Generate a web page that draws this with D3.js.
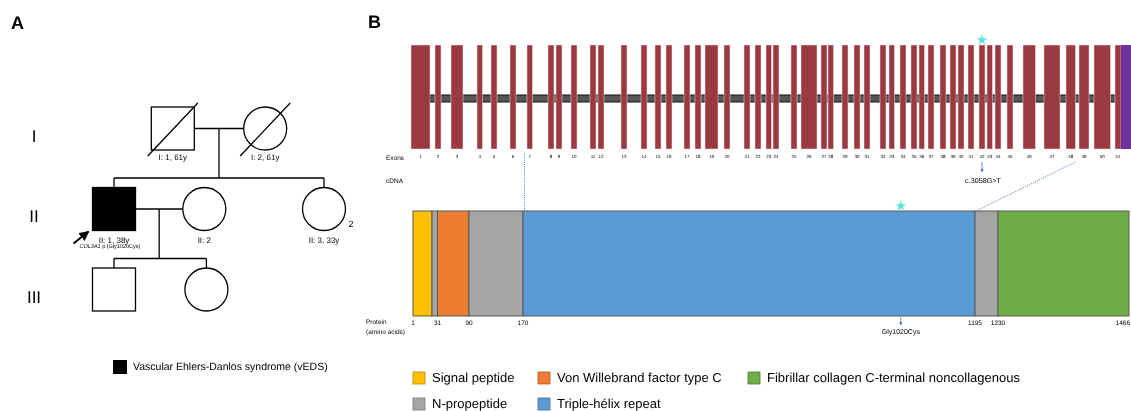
<!DOCTYPE html>
<html><head><meta charset="utf-8">
<script src="https://cdn.jsdelivr.net/npm/d3@7"></script>
<style>html,body{margin:0;padding:0;background:#fff;overflow:hidden}svg{display:block;font-family:"Liberation Sans",Arial,sans-serif;will-change:transform;text-rendering:geometricPrecision;-webkit-font-smoothing:antialiased}svg text{fill:#000}</style>
</head><body><svg id="fig" width="1131" height="411"></svg>
<script>
// ---------------- Panel A: pedigree data ----------------
const genLabels = ["I", "II", "III"];
const pedIds      = ["I:1", "I:2", "II:1", "II:2", "II:3", "III:1", "III:2"];
const pedGen      = [1, 1, 2, 2, 2, 3, 3];
const pedPos      = [28, 72, 0, 43, 100, 0, 44];          // horizontal pedigree units
const pedSex      = ["M", "F", "M", "F", "F", "M", "F"];
const pedAffected = [0, 0, 1, 0, 0, 0, 0];
const pedDeceased = [1, 1, 0, 0, 0, 0, 0];
const pedLabels   = ["I: 1, 61y", "I: 2, 61y", "II: 1, 38y", "II: 2", "II: 3, 33y", "", ""];
const pedCount    = ["", "", "", "", "2", "", ""];
const couples     = [["I:1", "I:2"], ["II:1", "II:2"]];
const offspring   = [["II:1", "II:3"], ["III:1", "III:2"]];
const probandId   = "II:1";
const probandGene = "COL3A1";
const probandVar  = " p.(Gly1020Cys)";
const pedLegend   = "Vascular Ehlers-Danlos syndrome (vEDS)";

// ---------------- Panel B: gene / protein data ----------------
const exonNumbers = d3.range(1, 52);
const exonStart = [0,24,40,66,80,99,116,137,145,160,179,187,210,230,244,255,273,284,294,313,333,344,355,362,380,390,410,417,431,443,453,469,478,489,500,508,517,529,539,547,557,568,576,584,596,612,633,655,668,683,704];
const exonWidth = [19,6,12,5.5,6,6,5.5,6,6,6,6,6,6,6,6,6,6,6,13,6,6,6,5.5,6,6,16,6,5.5,6,6,6,6,5.5,6,6,5.5,6,6,6,6,6,6,5.5,6,6,12.5,16,9.5,10,16.5,6];
const utrStart = 710, utrWidth = 14;
const geneLength = 720;

const domainStart = [1, 24, 31, 90, 170, 1195, 1230];
const domainEnd   = [24, 31, 90, 170, 1195, 1230, 1466];
const domainType  = ["signal", "npro", "vwfc", "npro", "helix", "npro", "fib"];
const proteinTicks = [1, 31, 90, 170, 1195, 1230, 1466];
const proteinBreaks = [1, 24, 31, 90, 170, 1195, 1230, 1466];

const typeNames  = {signal:"Signal peptide", vwfc:"Von Willebrand factor type C", fib:"Fibrillar collagen C-terminal noncollagenous", npro:"N-propeptide", helix:"Triple-hélix repeat"};
const typeColors = {signal:"#FFC000", vwfc:"#ED7D31", fib:"#70AD47", npro:"#A5A5A5", helix:"#5B9BD5"};
const legendRows = [["signal", "vwfc", "fib"], ["npro", "helix"]];

const variantExon = 42, variantCdna = "c.3058G>T", variantAA = 1020, variantProt = "Gly1020Cys";
const linkStartAA = 170, linkExon = 48, linkEndAA = 1195;

// ---------------- drawing ----------------
const svg = d3.select("#fig");
svg.append("rect").attr("width", 1131).attr("height", 411).attr("fill", "#fff");

svg.append("text").attr("x", 11).attr("y", 29).attr("font-size", 18).attr("font-weight", "bold").text("A");
svg.append("text").attr("x", 368).attr("y", 28).attr("font-size", 18).attr("font-weight", "bold").text("B");

// ----- pedigree -----
const px = d3.scaleLinear().domain([0, 100]).range([114, 324]);
const py = d3.scaleLinear().domain([1, 3]).range([128.5, 289.5]);
const S = 21.5;
const people = pedIds.map((id, i) => ({id, gen: pedGen[i], x: px(pedPos[i]), y: py(pedGen[i]), sex: pedSex[i],
  aff: pedAffected[i], dec: pedDeceased[i], label: pedLabels[i], count: pedCount[i]}));
const byId = Object.fromEntries(people.map(p => [p.id, p]));
const ped = svg.append("g").attr("stroke", "#000").attr("stroke-width", 1.3).attr("fill", "none");

genLabels.forEach((g, i) => {
  svg.append("text").attr("x", 34).attr("y", py(i + 1) + 9).attr("text-anchor", "middle")
    .attr("dominant-baseline", "middle").attr("font-size", 17).text(g);
});

couples.forEach((c, i) => {
  const a = byId[c[0]], b = byId[c[1]];
  const y = a.y;
  ped.append("line").attr("x1", a.x + S).attr("x2", b.x - S).attr("y1", y).attr("y2", y);
  const mx = (a.x + b.x) / 2;
  const kids = offspring[i].map(k => byId[k]);
  const lo = d3.min(kids, k => k.x), hi = d3.max(kids, k => k.x);
  const spouses = couples.map(cc => cc[1]);
  const kidsAll = people.filter(p => p.gen === a.gen + 1 && p.x >= lo && p.x <= hi && !spouses.includes(p.id));
  const sibY = kids[0].y - S - 9.5;
  ped.append("line").attr("x1", mx).attr("x2", mx).attr("y1", y).attr("y2", sibY);
  ped.append("line").attr("x1", lo).attr("x2", hi).attr("y1", sibY).attr("y2", sibY);
  kidsAll.forEach(k => ped.append("line").attr("x1", k.x).attr("x2", k.x).attr("y1", sibY).attr("y2", k.y - S));
});

people.forEach(p => {
  const fill = p.aff ? "#000" : "#fff";
  if (p.sex === "M") ped.append("rect").attr("x", p.x - S).attr("y", p.y - S).attr("width", 2 * S).attr("height", 2 * S).attr("fill", fill);
  else ped.append("circle").attr("cx", p.x).attr("cy", p.y).attr("r", S).attr("fill", fill);
  if (p.dec) ped.append("line").attr("x1", p.x - 25).attr("y1", p.y + 27.5).attr("x2", p.x + 25).attr("y2", p.y - 25.5);
  if (p.label) svg.append("text").attr("x", p.x).attr("y", p.y + (p.gen === 1 ? 29 : 31.5)).attr("text-anchor", "middle")
    .attr("dominant-baseline", "middle").attr("font-size", 8).text(p.label);
  if (p.count) svg.append("text").attr("x", p.x + 27).attr("y", p.y + 16).attr("text-anchor", "middle")
    .attr("dominant-baseline", "middle").attr("font-size", 9).text(p.count);
});

// proband arrow + variant
const pb = byId[probandId];
svg.append("defs").html('<marker id="ah" viewBox="0 0 10 10" refX="9" refY="5" markerWidth="5" markerHeight="5" orient="auto"><path d="M0,0L10,5L0,10z" fill="#000"/></marker>' +
  '<marker id="bh" viewBox="0 0 10 10" refX="9" refY="5" markerWidth="4" markerHeight="4" orient="auto"><path d="M0,0L10,5L0,10z" fill="#4472C4"/></marker>');
svg.append("line").attr("x1", pb.x - S - 19).attr("y1", pb.y + S + 13).attr("x2", pb.x - S - 4).attr("y2", pb.y + S + 1)
  .attr("stroke", "#000").attr("stroke-width", 2).attr("marker-end", "url(#ah)");
const vt = svg.append("text").attr("x", pb.x - 4).attr("y", pb.y + 37.5).attr("text-anchor", "middle")
  .attr("dominant-baseline", "middle").attr("font-size", 5.5);
vt.append("tspan").attr("font-style", "italic").text(probandGene);
vt.append("tspan").text(probandVar);

// pedigree legend
svg.append("rect").attr("x", 113).attr("y", 360).attr("width", 14).attr("height", 14).attr("fill", "#000");
svg.append("text").attr("x", 133).attr("y", 367.5).attr("dominant-baseline", "middle").attr("font-size", 10.5).text(pedLegend);

// ----- gene structure -----
const gx = d3.scaleLinear().domain([0, geneLength]).range([411, 1131]);
const exTop = 45, exBot = 149, intY = 98.5;
const exons = exonNumbers.map((n, i) => ({n, s: exonStart[i], w: exonWidth[i]}));
svg.append("rect").attr("x", gx(exonStart[0] + exonWidth[0])).attr("y", intY - 3.5)
  .attr("width", gx(utrStart) - gx(exonStart[0] + exonWidth[0])).attr("height", 7)
  .attr("fill", "#555").attr("stroke", "#111").attr("stroke-width", 1);
svg.append("g").selectAll("rect").data(exons).join("rect")
  .attr("x", d => gx(d.s)).attr("y", exTop).attr("width", d => gx(d.s + d.w) - gx(d.s)).attr("height", exBot - exTop)
  .attr("fill", "#9A3A40").attr("stroke", "#f3e3e3").attr("stroke-width", 0.5);
svg.append("rect").attr("x", gx(utrStart)).attr("y", exTop).attr("width", gx(utrStart + utrWidth) - gx(utrStart))
  .attr("height", exBot - exTop).attr("fill", "#7030A0");
svg.append("g").selectAll("text").data(exons).join("text")
  .attr("x", d => gx(d.s + d.w / 2)).attr("y", 157).attr("text-anchor", "middle").attr("dominant-baseline", "middle")
  .attr("font-size", 4.5).text(d => d.n);

svg.append("text").attr("x", 386).attr("y", 158).attr("dominant-baseline", "middle").attr("font-size", 6.5).text("Exons");
svg.append("text").attr("x", 386).attr("y", 181).attr("dominant-baseline", "middle").attr("font-size", 6.5).text("cDNA");
svg.append("text").attr("x", 366).attr("y", 322).attr("dominant-baseline", "middle").attr("font-size", 6.5).text("Protein");
svg.append("text").attr("x", 366).attr("y", 332).attr("dominant-baseline", "middle").attr("font-size", 6.5).text("(amino acids)");

// ----- protein -----
const pxs = d3.scaleLinear().domain(proteinBreaks).range([413, 432, 437.5, 469, 523, 975, 998, 1129]);
const pTop = 211, pBot = 316;
const doms = domainStart.map((s, i) => ({s, e: domainEnd[i], t: domainType[i]}));
svg.append("g").selectAll("rect").data(doms).join("rect")
  .attr("x", d => pxs(d.s)).attr("y", pTop).attr("width", d => pxs(d.e) - pxs(d.s)).attr("height", pBot - pTop)
  .attr("fill", d => typeColors[d.t]).attr("stroke", "#595959").attr("stroke-width", 1);
const lastTick = proteinTicks[proteinTicks.length - 1];
svg.append("g").selectAll("text").data(proteinTicks).join("text")
  .attr("x", d => d === lastTick ? pxs(d) + 1 : pxs(d)).attr("y", 323.5)
  .attr("text-anchor", d => d === lastTick ? "end" : "middle").attr("dominant-baseline", "middle")
  .attr("font-size", 6.5).text(d => d);

// dotted links
const e48 = exons[linkExon - 1];
svg.append("line").attr("x1", pxs(linkStartAA) + 1.5).attr("x2", pxs(linkStartAA) + 1.5).attr("y1", 153).attr("y2", pTop)
  .attr("stroke", "#6C8FC8").attr("stroke-width", 1).attr("stroke-dasharray", "1.2,1");
svg.append("line").attr("x1", gx(e48.s + e48.w)).attr("y1", 162).attr("x2", pxs(linkEndAA) + 1).attr("y2", pTop)
  .attr("stroke", "#6C8FC8").attr("stroke-width", 1).attr("stroke-dasharray", "1.2,1");

// variant markers
const ve = exons[variantExon - 1];
const vx = gx(ve.s + ve.w / 2);
const star = d3.symbol(d3.symbolStar, 36);
svg.append("path").attr("d", star()).attr("transform", `translate(${vx},40)`).attr("fill", "#4FE3DC").attr("stroke", "#B8F4F0").attr("stroke-width", 0.6);
svg.append("line").attr("x1", vx).attr("x2", vx).attr("y1", 162).attr("y2", 172).attr("stroke", "#4472C4").attr("stroke-width", 0.8).attr("marker-end", "url(#bh)");
svg.append("text").attr("x", vx + 1).attr("y", 181).attr("text-anchor", "middle").attr("dominant-baseline", "middle").attr("font-size", 7.2).text(variantCdna);

const vpx = pxs(variantAA) + 3;
svg.append("path").attr("d", star()).attr("transform", `translate(${vpx},206)`).attr("fill", "#4FE3DC").attr("stroke", "#B8F4F0").attr("stroke-width", 0.6);
svg.append("line").attr("x1", vpx).attr("x2", vpx).attr("y1", pBot + 1).attr("y2", pBot + 9).attr("stroke", "#4472C4").attr("stroke-width", 0.8).attr("marker-end", "url(#bh)");
svg.append("text").attr("x", vpx).attr("y", 332).attr("text-anchor", "middle").attr("dominant-baseline", "middle").attr("font-size", 7).text(variantProt);

// ----- domain legend -----
const legColX = [413, 538, 748], legRowY = [378, 404];
legendRows.forEach((row, ri) => row.forEach((t, ci) => {
  const g = svg.append("g").attr("transform", `translate(${legColX[ci]},${legRowY[ri]})`);
  g.append("rect").attr("x", 0).attr("y", -6).attr("width", 12).attr("height", 12)
    .attr("fill", typeColors[t]).attr("stroke", d3.color(typeColors[t]).darker(0.9)).attr("stroke-width", 0.8);
  g.append("text").attr("x", 19).attr("y", 0.5).attr("dominant-baseline", "middle").attr("font-size", 13).text(typeNames[t]);
}));
</script></body></html>
